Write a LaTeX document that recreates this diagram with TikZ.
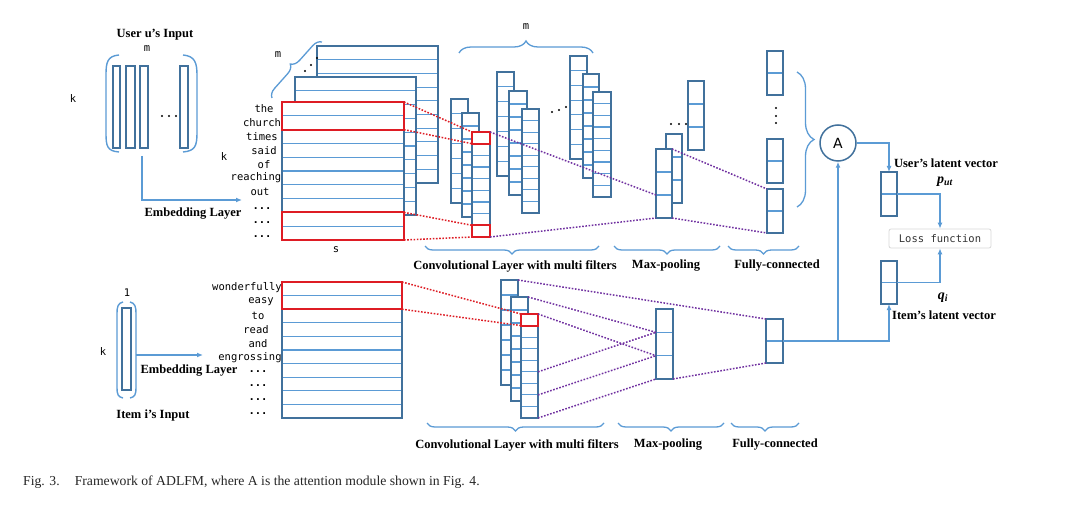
\documentclass[tikz,border=0pt]{standalone}
\usepackage{fontspec}
\setmainfont{Liberation Serif}
\newfontfamily\monof{DejaVu Sans Mono}
\newfontfamily\sansf{DejaVu Sans}
\usetikzlibrary{decorations.pathreplacing,arrows.meta,calc}
\definecolor{boxblue}{RGB}{65,113,156}
\definecolor{inblue}{RGB}{91,155,213}
\definecolor{myred}{RGB}{222,28,36}
\definecolor{mypurple}{RGB}{112,48,160}
\tikzset{
 cellfill/.style={fill=white, inner sep=0pt, outer sep=0pt},
 cellborder/.style={draw=boxblue, line width=1.5pt},
 inline/.style={draw=inblue, line width=1.1pt},
 redbox/.style={draw=myred, line width=1.9pt, inner sep=0pt, outer sep=0pt},
 reddot/.style={draw=myred, line width=1.5pt, dash pattern=on 1.6pt off 1.6pt},
 purdot/.style={draw=mypurple, line width=1.5pt, dash pattern=on 1.6pt off 1.6pt},
 bluearrow/.style={draw=inblue, line width=1.3pt, -{Latex[length=6pt,width=5pt]}},
 blueline/.style={draw=inblue, line width=1.4pt},
 bracest/.style={draw=inblue, line width=1.3pt, decorate},
 lbl/.style={font=\fontsize{12.5}{14}\selectfont\bfseries, inner sep=0pt},
 mathlbl/.style={font=\fontsize{14}{16}\selectfont\bfseries\itshape, inner sep=0pt},
 mono/.style={font=\fontsize{10.5}{12}\selectfont\monof, inner sep=0pt},
 bar/.style={draw=boxblue, line width=1.5pt, inner sep=0pt, outer sep=0pt, anchor=north west},
}
\newcommand\cellcol[6]{%
  \node[cellfill, minimum width=#4pt, minimum height=#5pt, anchor=north west] (#1) at (#2,#3) {};
  \pgfmathtruncatemacro\ccN{#6-1}%
  \foreach \ci in {1,...,\ccN} {\draw[inline] (#2,{#3+\ci*#5/#6}) -- ({#2+#4},{#3+\ci*#5/#6});}%
  \draw[cellborder] (#1.north west) rectangle (#1.south east);
}
\begin{document}
\begin{tikzpicture}[x=1pt,y=-1pt]
\fill[white] (0,0) rectangle (1071,505);
\useasboundingbox (0,0) rectangle (1071,505);

% ---------- user input ----------
\node[lbl] (uin) at (155,35) {User u’s Input};
\node[mono] (um) at (147,49) {m};
\node[mono] (uk) at (73,99) {k};
\draw[blueline] (119,55) .. controls (107,56) and (106,63) .. (106,75) -- (106,133) .. controls (106,146) and (107,151) .. (119,152);
\draw[blueline] (183,55) .. controls (195,56) and (197,63) .. (197,75) -- (197,133) .. controls (197,146) and (195,151) .. (183,152);
\node[bar, minimum width=7pt, minimum height=82pt] (ub1) at (113,66) {};
\node[bar, minimum width=9pt, minimum height=82pt] (ub2) at (126,66) {};
\node[bar, minimum width=8pt, minimum height=82pt] (ub3) at (140,66) {};
\node[bar, minimum width=8pt, minimum height=82pt] (ub4) at (180,66) {};
\foreach \dx in {162,169,176} \fill (\dx,116) circle (1.1);
\coordinate (ustart) at (142,156);
\coordinate (uend) at (242,200);
\draw[bluearrow] (ustart) |- (uend);
\node[lbl] (uemb) at (193,214) {Embedding Layer};

% ---------- user embedding matrices ----------
\cellcol{mback}{317}{46}{121}{137}{10}
\cellcol{mmid}{295}{77}{121}{138}{10}
\cellcol{mfront}{282}{102}{122}{138}{10}
\node[redbox, minimum width=122pt, minimum height=27.6pt, anchor=north west] (rtop) at (282,102) {};
\node[redbox, minimum width=122pt, minimum height=27.6pt, anchor=north west] (rbot) at (282,212.4) {};
\foreach \p in {{305,71},{311,65},{317,58}} \fill (\p) circle (1.1);
\coordinate (mb1) at (272,98);
\coordinate (mb2) at (322,42);
\draw[bracest, decoration={brace, amplitude=9pt}] (mb1) -- (mb2);
\node[mono] (mm) at (278,55) {m};
\node[mono] (mk) at (224,157) {k};
\node[mono] (ms) at (336,250) {s};
\node[mono] (w1) at (264,108.5) {the};
\node[mono] (w2) at (262,122.5) {church};
\node[mono] (w3) at (262,136.5) {times};
\node[mono] (w4) at (264,150.5) {said};
\node[mono] (w5) at (264,164.5) {of};
\node[mono] (w6) at (256,178) {reaching};
\node[mono] (w7) at (260,191.5) {out};
\node[mono] (w8) at (262,209) {\bfseries ...};
\node[mono] (w9) at (262,223) {\bfseries ...};
\node[mono] (w10) at (262,237) {\bfseries ...};

% ---------- user conv ----------
\cellcol{ca}{451}{99}{17}{104}{7}
\cellcol{cb}{462}{113}{17}{104}{8}
\cellcol{cc}{472}{132}{18}{105}{9}
\node[redbox, minimum width=18pt, minimum height=11.7pt, anchor=north west] (rc1) at (472,132) {};
\node[redbox, minimum width=18pt, minimum height=11.7pt, anchor=north west] (rc2) at (472,225.3) {};
\cellcol{cd}{497}{72}{17}{104}{7}
\cellcol{ce}{509}{91}{18}{104}{8}
\cellcol{cf}{522}{109}{17}{104}{9}
\cellcol{cg}{570}{56}{17}{103}{7}
\cellcol{ch}{583}{74}{16}{104}{8}
\cellcol{ci}{593}{92}{18}{105}{9}
\foreach \p in {{552,112},{559,110},{566,107}} \fill (\p) circle (1.1);
\draw[bracest, decoration={brace, amplitude=12pt}] (459,53) -- (593,53);
\node[mono] (cm) at (526,27) {m};

% ---------- user max-pool & fc ----------
\cellcol{p3}{688}{81}{16}{69}{3}
\cellcol{p2}{666}{134}{16}{69}{3}
\cellcol{p1}{656}{149}{16}{69}{3}
\foreach \dx in {671,679,686} \fill (\dx,124) circle (1.1);
\cellcol{f1}{767}{51}{16}{44}{2}
\cellcol{f2}{767}{139}{16}{44}{2}
\cellcol{f3}{767}{189}{16}{44}{2}
\foreach \dy in {108,116,123} \fill (776,\dy) circle (1.1);
\draw[bracest, decoration={brace, amplitude=17pt}] (797,72) -- (797,207);

% dotted links (top)
\draw[reddot] (rtop.north east) -- (rc1.north west);
\draw[reddot] (rtop.south east) -- (rc1.south west);
\draw[reddot] (rbot.north east) -- (rc2.north west);
\draw[reddot] (rbot.south east) -- (rc2.south west);
\coordinate (p1m) at (656,195);
\draw[purdot] (rc1.north east) -- (p1m);
\draw[purdot] (rc2.south east) -- (p1.south west);
\draw[purdot] (p1.north east) -- (f3.north west);
\draw[purdot] (p1.south east) -- (f3.south west);

% labels top
\draw[bracest, decoration={brace, mirror, amplitude=8pt}] (425,246) -- (599,246);
\draw[bracest, decoration={brace, mirror, amplitude=8pt}] (614,246) -- (720,246);
\draw[bracest, decoration={brace, mirror, amplitude=8pt}] (728,246) -- (799,246);
\node[lbl] (tl1) at (515,266) {Convolutional Layer with multi filters};
\node[lbl] (tl2) at (666,266) {Max-pooling};
\node[lbl] (tl3) at (777,266) {Fully-connected};

% ---------- item input ----------
\node[mono] (i1) at (127,293) {1};
\node[mono] (ik) at (103,352) {k};
\draw[blueline] (123,302) .. controls (118,303) and (117,307) .. (117,313) -- (117,388) .. controls (117,394) and (118,397) .. (123,398);
\draw[blueline] (130,302) .. controls (135,303) and (136,307) .. (136,313) -- (136,388) .. controls (136,394) and (135,397) .. (130,398);
\node[bar, minimum width=9pt, minimum height=82pt] (ib) at (122,308) {};
\coordinate (istart) at (136,355);
\coordinate (iend) at (203,355);
\draw[bluearrow] (istart) -- (iend);
\node[lbl] (iemb) at (189,371) {Embedding Layer};
\node[lbl] (iin) at (153,415) {Item i’s Input};

\cellcol{imat}{282}{282}{120}{136}{10}
\node[redbox, minimum width=120pt, minimum height=27.2pt, anchor=north west] (ibox) at (282,282) {};
\node[mono] (v1) at (247,288) {wonderfully};
\node[mono] (v2) at (261,302) {easy};
\node[mono] (v3) at (258,316) {to};
\node[mono] (v4) at (256,330) {read};
\node[mono] (v5) at (258,344) {and};
\node[mono] (v6) at (250,357.5) {engrossing};
\node[mono] (v7) at (258,372) {\bfseries ...};
\node[mono] (v8) at (258,386) {\bfseries ...};
\node[mono] (v9) at (258,400) {\bfseries ...};
\node[mono] (v10) at (258,414) {\bfseries ...};

% ---------- item conv / pool / fc ----------
\cellcol{ja}{501}{280}{17}{105}{7}
\cellcol{jb}{511}{297}{17}{104}{8}
\cellcol{jc}{521}{314}{17}{104}{9}
\node[redbox, minimum width=17pt, minimum height=11.6pt, anchor=north west] (jr) at (521,314) {};
\cellcol{mpb}{656}{309}{17}{70}{3}
\cellcol{fcb}{766}{319}{17}{44}{2}
\draw[reddot] (ibox.north east) -- (jr.north west);
\draw[reddot] (ibox.south east) -- (jr.south west);
\coordinate (mq1) at (656,332.3);
\coordinate (mq2) at (656,355.7);
\coordinate (jc5) at (538,371.8);
\coordinate (jc7) at (538,394.9);
\draw[purdot] (ja.north east) -- (fcb.north west);
\draw[purdot] (jb.north east) -- (mq1);
\draw[purdot] (jc.north east) -- (mq2);
\draw[purdot] (jc5) -- (mq1);
\draw[purdot] (jc7) -- (mq2);
\draw[purdot] (jc.south east) -- (mpb.south west);
\draw[purdot] (mpb.south east) -- (fcb.south west);

\draw[bracest, decoration={brace, mirror, amplitude=8pt}] (427,423) -- (604,423);
\draw[bracest, decoration={brace, mirror, amplitude=8pt}] (618,423) -- (724,423);
\draw[bracest, decoration={brace, mirror, amplitude=8pt}] (731,423) -- (799,423);
\node[lbl] (bl1) at (517,445) {Convolutional Layer with multi filters};
\node[lbl] (bl2) at (668,445) {Max-pooling};
\node[lbl] (bl3) at (775,445) {Fully-connected};

% ---------- attention & latent vectors ----------
\node[circle, draw=boxblue, line width=1.5pt, minimum size=36pt, inner sep=0pt, font=\sansf\fontsize{14}{16}\selectfont] (A) at (838,143) {A};
\cellcol{ul}{881}{172}{16}{44}{2}
\cellcol{il}{881}{261}{16}{43}{2}
\node[draw=black!15, rounded corners=2pt, line width=0.8pt, minimum width=102pt, minimum height=19pt, inner sep=0pt, font=\monof\fontsize{10.5}{12}\selectfont, text=black!80] (loss) at (940,238.5) {Loss function};
\draw[bluearrow] (A.east) -| (ul.north);
\draw[bluearrow] (ul.east) -| (loss.north);
\draw[bluearrow] (il.east) -| (loss.south);
\draw[bluearrow] (fcb.east) -| (il.south);
\coordinate (br) at (A.south |- fcb.east);
\draw[bluearrow] (br) -- (A.south);
\node[lbl] (ulat) at (946,163) {User’s latent vector};
\node[mathlbl] (put) at (945,182) {p\textsubscript{ut}};
\node[mathlbl] (qi) at (943,298) {q\textsubscript{i}};
\node[lbl] (ilat) at (944,315) {Item’s latent vector};

% ---------- caption ----------
\node[anchor=west, inner sep=0pt, font=\fontsize{13.7}{15}\selectfont, text=black!85] (cap) at (23,482) {Fig. 3.\hspace{1.1em}Framework of ADLFM, where A is the attention module shown in Fig. 4.};
\end{tikzpicture}
\end{document}
